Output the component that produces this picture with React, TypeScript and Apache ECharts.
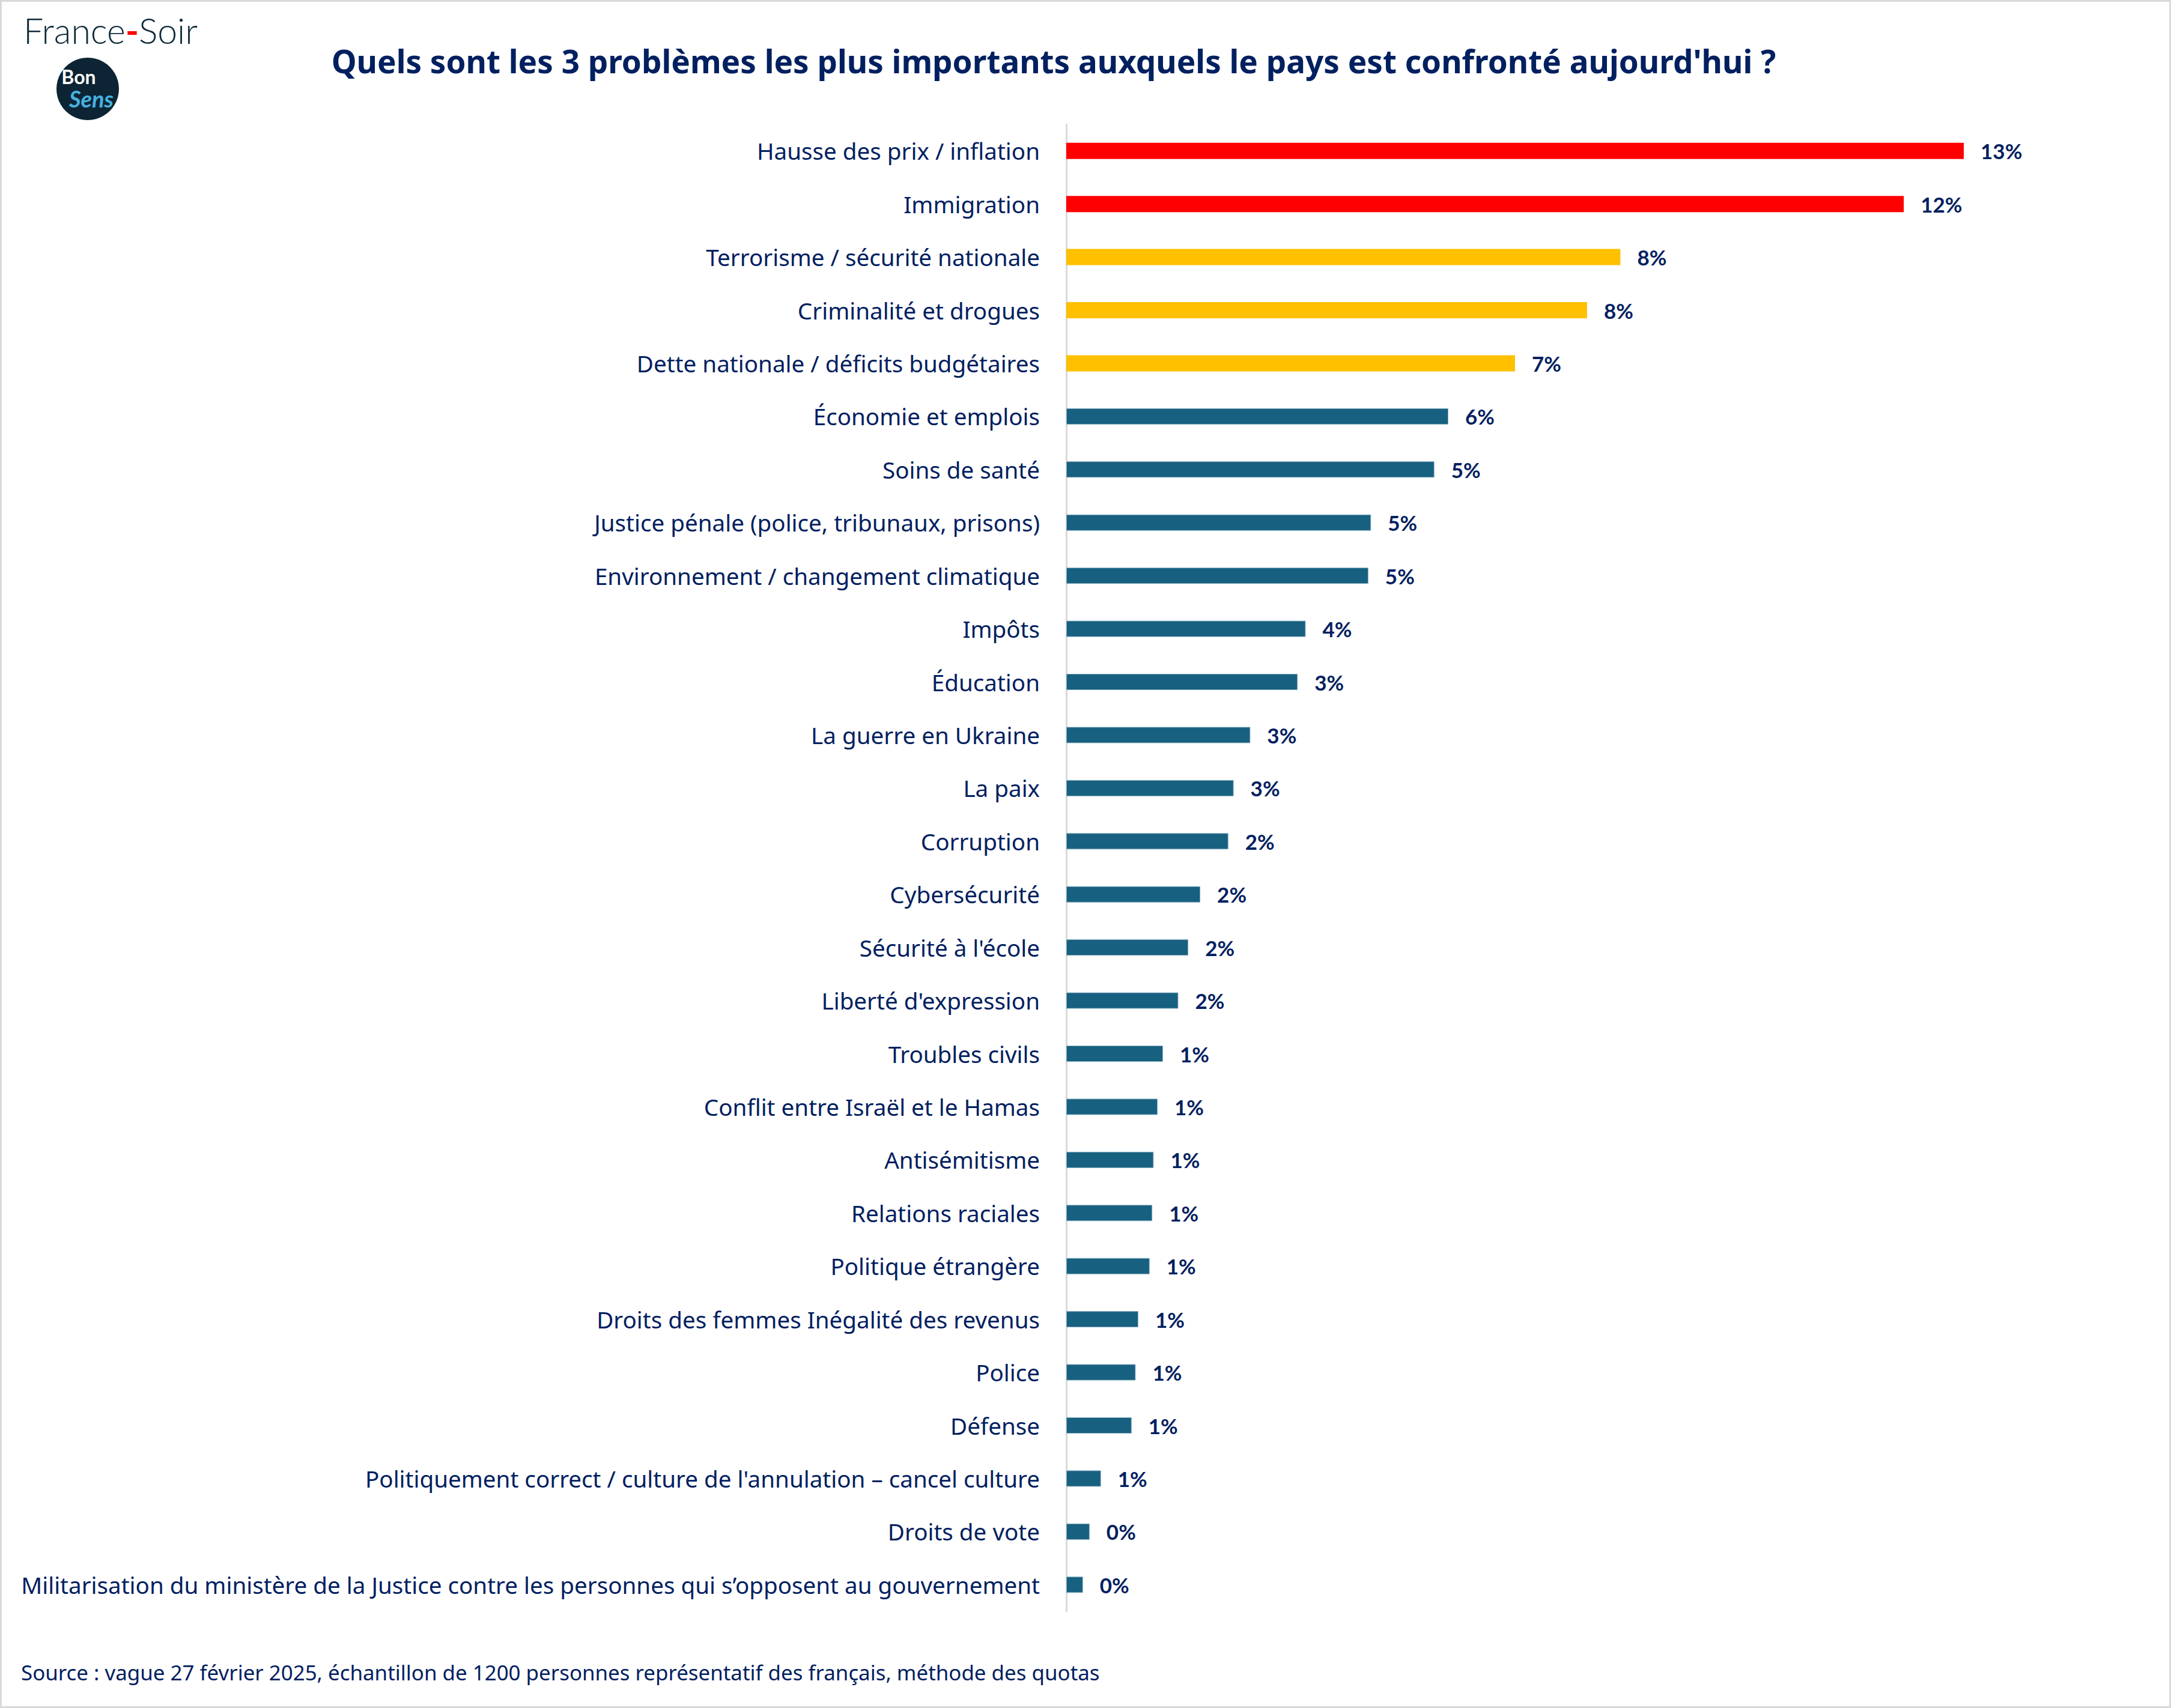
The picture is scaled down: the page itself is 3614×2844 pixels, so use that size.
import React, { useEffect, useRef } from "react";
import * as echarts from "echarts";

const categories = [
  "Hausse des prix / inflation",
  "Immigration",
  "Terrorisme / sécurité nationale",
  "Criminalité et drogues",
  "Dette nationale / déficits budgétaires",
  "Économie et emplois",
  "Soins de santé",
  "Justice pénale (police, tribunaux, prisons)",
  "Environnement / changement climatique",
  "Impôts",
  "Éducation",
  "La guerre en Ukraine",
  "La paix",
  "Corruption",
  "Cybersécurité",
  "Sécurité à l'école",
  "Liberté d'expression",
  "Troubles civils",
  "Conflit entre Israël et le Hamas",
  "Antisémitisme",
  "Relations raciales",
  "Politique étrangère",
  "Droits des femmes Inégalité des revenus",
  "Police",
  "Défense",
  "Politiquement correct / culture de l'annulation – cancel culture",
  "Droits de vote",
  "Militarisation du ministère de la Justice contre les personnes qui s’opposent au gouvernement",
];

// bar lengths (%)
const values = [
  13.46, 12.56, 8.31, 7.81, 6.73, 5.73, 5.52, 4.57, 4.53, 3.59, 3.47, 2.76, 2.51, 2.43,
  2.01, 1.83, 1.68, 1.45, 1.37, 1.31, 1.29, 1.25, 1.08, 1.04, 0.98, 0.52, 0.35, 0.25,
];

// labels as printed on the picture (%)
const shownLabels = [
  13, 12, 8, 8, 7, 6, 5, 5, 5, 4, 3, 3, 3, 2, 2, 2, 2, 1, 1, 1, 1, 1, 1, 1, 1, 1, 0, 0,
];

// tier of each category: 0 = red, 1 = yellow, 2 = teal
const tiers = [0, 0, 1, 1, 1, 2, 2, 2, 2, 2, 2, 2, 2, 2, 2, 2, 2, 2, 2, 2, 2, 2, 2, 2, 2, 2, 2, 2];
const tierColors = ["#ff0000", "#ffc000", "#17607f"];

const title =
  "Quels sont les 3 problèmes les plus importants auxquels le pays est confronté aujourd'hui ?";
const source =
  "Source : vague 27 février 2025, échantillon de 1200 personnes représentatif des français, méthode des quotas";

const NAVY = "#002060";
const FONT = "'Noto Sans', Lato, sans-serif";
const LATO = "Lato, 'Noto Sans', sans-serif";

export default function App() {
  const ref = useRef<HTMLDivElement>(null);

  useEffect(() => {
    document.body.style.margin = "0";
    if (!ref.current) return;
    const chart = echarts.init(ref.current, undefined, { renderer: "svg" });

    const data = values.map((v, i) => ({
      value: v,
      itemStyle:
        tiers[i] === 2
          ? { color: tierColors[2], borderColor: "#86adc1", borderWidth: 1 }
          : { color: tierColors[tiers[i]] },
    }));

    chart.setOption({
      animation: false,
      backgroundColor: "#ffffff",
      textStyle: { fontFamily: FONT },
      grid: { left: 1775, right: 174, top: 207, bottom: 161, containLabel: false },
      xAxis: {
        type: "value",
        min: 0,
        max: 15,
        show: false,
        splitLine: { show: false },
      },
      yAxis: {
        type: "category",
        inverse: true,
        data: categories,
        axisLine: { show: true, lineStyle: { color: "#d9d9d9", width: 3 } },
        axisTick: { show: false },
        axisLabel: {
          color: NAVY,
          fontSize: 38.6,
          fontFamily: FONT,
          margin: 44,
        },
      },
      series: [
        {
          type: "bar",
          data,
          barWidth: 27,
          label: {
            show: true,
            position: "right",
            distance: 28,
            color: NAVY,
            fontWeight: "bold",
            fontSize: 35,
            fontFamily: LATO,
            formatter: (p: any) => shownLabels[p.dataIndex] + "%",
          },
        },
      ],
      graphic: [
        {
          type: "rect",
          shape: { x: 1.5, y: 1.5, width: 3611, height: 2841 },
          style: { fill: "none", stroke: "#d9d9d9", lineWidth: 3 },
          silent: true,
        },
        {
          type: "text",
          x: 39,
          y: 50,
          style: {
            text: "{a|France}{b|-}{a|Soir}",
            textVerticalAlign: "middle",
            rich: {
              a: { fontSize: 59, fontWeight: 300, fontFamily: LATO, fill: "#0d2a3a" },
              b: { fontSize: 59, fontWeight: "bold", fontFamily: LATO, fill: "#ff0000" },
            },
          },
        },
        {
          type: "circle",
          shape: { cx: 146, cy: 148, r: 52 },
          style: { fill: "#0c2433" },
        },
        {
          type: "text",
          x: 131,
          y: 127,
          style: {
            text: "Bon",
            textAlign: "center",
            textVerticalAlign: "middle",
            fontSize: 32,
            fontWeight: "bold",
            fontFamily: LATO,
            fill: "#ffffff",
          },
        },
        {
          type: "text",
          x: 152,
          y: 164,
          style: {
            text: "Sens",
            textAlign: "center",
            textVerticalAlign: "middle",
            fontSize: 38,
            fontStyle: "italic",
            fontWeight: "bold",
            fontFamily: LATO,
            fill: "#45b1e0",
          },
        },
        {
          type: "text",
          x: 1754,
          y: 101,
          style: {
            text: title,
            textAlign: "center",
            textVerticalAlign: "middle",
            fontSize: 53,
            fontWeight: "bold",
            fontFamily: FONT,
            fill: NAVY,
          },
        },
        {
          type: "text",
          x: 35,
          y: 2784,
          style: {
            text: source,
            textAlign: "left",
            textVerticalAlign: "middle",
            fontSize: 34.9,
            fontFamily: FONT,
            fill: NAVY,
          },
        },
      ],
    });

    return () => chart.dispose();
  }, []);

  return <div ref={ref} style={{ width: 3614, height: 2844 }} />;
}
